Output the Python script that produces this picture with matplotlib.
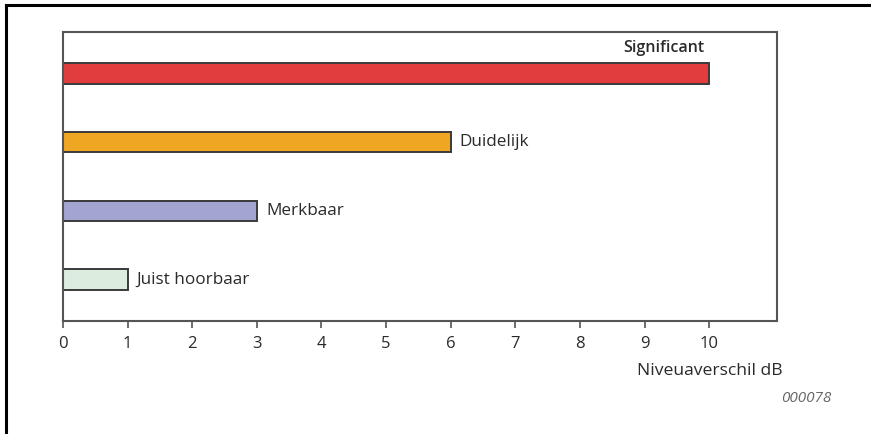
"""
Horizontal bar chart: perceived level differences (Niveauverschil dB).
"""

import matplotlib.pyplot as plt
from matplotlib.lines import Line2D

# Data
labels = ['Juist hoorbaar', 'Merkbaar', 'Duidelijk', 'Significant']
values = [1, 3, 6, 10]
colors = ['#dcede0', '#a4a4d2', '#eea623', '#e23d3e']
xticks = list(range(0, 11))

plt.rcParams['font.family'] = ['Open Sans', 'DejaVu Sans']

fig = plt.figure(figsize=(8.71, 4.34), dpi=100)
ax = fig.add_axes([63 / 871, 1 - 321 / 434, (777 - 63) / 871, (321 - 32) / 434])

positions = list(range(len(values)))
ax.barh(positions, values, height=0.3, color=colors, edgecolor='#3a3a3a', linewidth=1.4)

# Value labels next to / above the bars
for i, (lab, val) in enumerate(zip(labels, values)):
    if val >= 10:
        ax.text(val - 0.08, i + 0.25, lab, ha='right', va='bottom', fontsize=11.5,
                color='#2a2a2a', fontweight='semibold')
    else:
        ax.text(val + 0.14, i, lab, ha='left', va='center', fontsize=12.3, color='#2a2a2a')

ax.set_xlim(0, 11.05)
ax.set_ylim(-0.6, 3.6)
ax.set_xticks(xticks)
ax.set_yticks([])
ax.tick_params(axis='x', direction='out', length=5, width=1.2, colors='#555555',
               labelcolor='#2a2a2a', labelsize=12, pad=6)

for side in ['left', 'right', 'top', 'bottom']:
    ax.spines[side].set_color('#555555')
    ax.spines[side].set_linewidth(1.5)

fig.text(783 / 871, 1 - 371 / 434, 'Niveuaverschil dB', ha='right', va='center',
         fontsize=12.6, color='#2a2a2a')
fig.text(831 / 871, 1 - 398 / 434, '000078', ha='right', va='center',
         fontsize=11, color='#666666', style='italic')

# Cropped outer frame (top and left edge only)
fig.add_artist(Line2D([6 / 871, 6 / 871], [0, 1 - 5 / 434], color='black', linewidth=2.2,
                      transform=fig.transFigure))
fig.add_artist(Line2D([6 / 871, 1], [1 - 5 / 434, 1 - 5 / 434], color='black', linewidth=2.2,
                      transform=fig.transFigure))

plt.savefig('out.png', dpi=100)
plt.close()
